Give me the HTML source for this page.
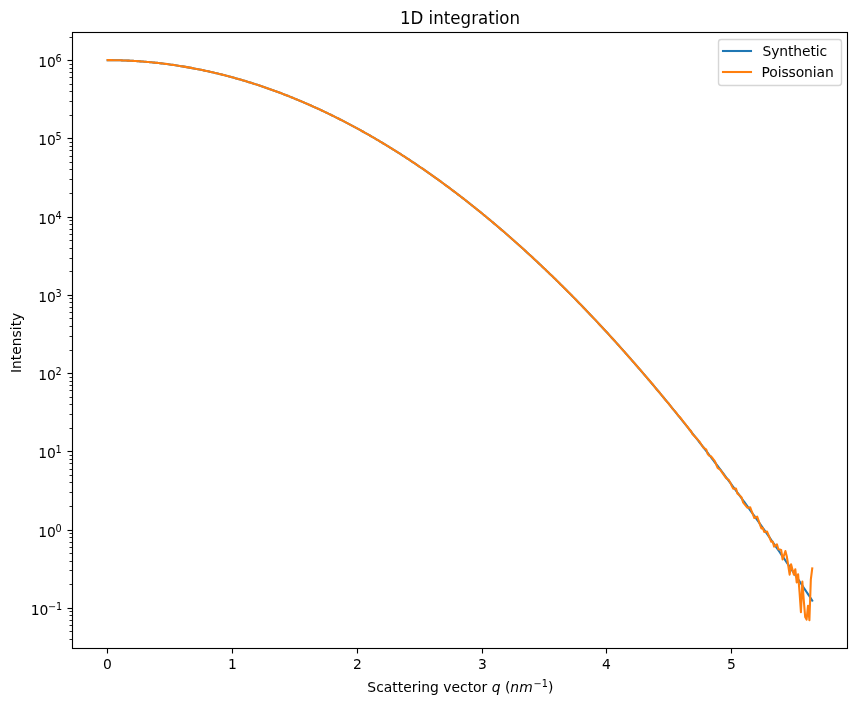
<!DOCTYPE html>
<html lang="en"><head><meta charset="utf-8"><title>1D integration</title>
<style>html,body{margin:0;padding:0;background:#fff}svg{display:block}text{font-family:'DejaVu Sans','Liberation Sans',sans-serif;fill:#000}</style></head><body>
<svg width="857" height="709" viewBox="0 0 857 709">
<rect x="0" y="0" width="857" height="709" fill="#fff"/>
<defs><clipPath id="ax"><rect x="72.461" y="32.122" width="775" height="616"/></clipPath></defs>
<g clip-path="url(#ax)" fill="none" stroke-width="2.083" stroke-linecap="square" stroke-linejoin="round">
<path d="M107.69 60.12 L109.10 60.13 L110.51 60.14 L111.92 60.15 L113.34 60.17 L114.75 60.19 L116.16 60.22 L117.57 60.25 L118.98 60.29 L120.40 60.33 L121.81 60.37 L123.22 60.42 L124.63 60.48 L126.04 60.53 L127.46 60.60 L128.87 60.66 L130.28 60.73 L131.69 60.81 L133.10 60.89 L134.51 60.97 L135.93 61.06 L137.34 61.15 L138.75 61.25 L140.16 61.35 L141.57 61.45 L142.99 61.56 L144.40 61.68 L145.81 61.79 L147.22 61.92 L148.63 62.04 L150.05 62.18 L151.46 62.31 L152.87 62.45 L154.28 62.60 L155.69 62.74 L157.11 62.90 L158.52 63.05 L159.93 63.22 L161.34 63.38 L162.75 63.55 L164.16 63.73 L165.58 63.91 L166.99 64.09 L168.40 64.28 L169.81 64.47 L171.22 64.67 L172.64 64.87 L174.05 65.07 L175.46 65.28 L176.87 65.49 L178.28 65.71 L179.70 65.93 L181.11 66.16 L182.52 66.39 L183.93 66.63 L185.34 66.87 L186.76 67.11 L188.17 67.36 L189.58 67.61 L190.99 67.87 L192.40 68.13 L193.82 68.40 L195.23 68.67 L196.64 68.94 L198.05 69.22 L199.46 69.50 L200.87 69.79 L202.29 70.08 L203.70 70.38 L205.11 70.68 L206.52 70.98 L207.93 71.29 L209.35 71.61 L210.76 71.92 L212.17 72.25 L213.58 72.57 L214.99 72.90 L216.41 73.24 L217.82 73.58 L219.23 73.92 L220.64 74.27 L222.05 74.62 L223.47 74.98 L224.88 75.34 L226.29 75.71 L227.70 76.08 L229.11 76.45 L230.52 76.83 L231.94 77.21 L233.35 77.60 L234.76 77.99 L236.17 78.39 L237.58 78.79 L239.00 79.19 L240.41 79.60 L241.82 80.01 L243.23 80.43 L244.64 80.85 L246.06 81.28 L247.47 81.71 L248.88 82.14 L250.29 82.58 L251.70 83.03 L253.12 83.47 L254.53 83.93 L255.94 84.38 L257.35 84.84 L258.76 85.31 L260.18 85.78 L261.59 86.25 L263.00 86.73 L264.41 87.21 L265.82 87.70 L267.23 88.19 L268.65 88.69 L270.06 89.19 L271.47 89.69 L272.88 90.20 L274.29 90.71 L275.71 91.23 L277.12 91.75 L278.53 92.28 L279.94 92.81 L281.35 93.34 L282.77 93.88 L284.18 94.43 L285.59 94.97 L287.00 95.53 L288.41 96.08 L289.83 96.64 L291.24 97.21 L292.65 97.78 L294.06 98.35 L295.47 98.93 L296.88 99.51 L298.30 100.10 L299.71 100.69 L301.12 101.28 L302.53 101.88 L303.94 102.49 L305.36 103.10 L306.77 103.71 L308.18 104.33 L309.59 104.95 L311.00 105.57 L312.42 106.20 L313.83 106.84 L315.24 107.48 L316.65 108.12 L318.06 108.77 L319.48 109.42 L320.89 110.07 L322.30 110.74 L323.71 111.40 L325.12 112.07 L326.54 112.74 L327.95 113.42 L329.36 114.10 L330.77 114.79 L332.18 115.48 L333.59 116.17 L335.01 116.87 L336.42 117.58 L337.83 118.29 L339.24 119.00 L340.65 119.72 L342.07 120.44 L343.48 121.16 L344.89 121.89 L346.30 122.63 L347.71 123.36 L349.13 124.11 L350.54 124.85 L351.95 125.61 L353.36 126.36 L354.77 127.12 L356.19 127.89 L357.60 128.66 L359.01 129.43 L360.42 130.21 L361.83 130.99 L363.24 131.77 L364.66 132.56 L366.07 133.36 L367.48 134.16 L368.89 134.96 L370.30 135.77 L371.72 136.58 L373.13 137.40 L374.54 138.22 L375.95 139.05 L377.36 139.88 L378.78 140.71 L380.19 141.55 L381.60 142.39 L383.01 143.24 L384.42 144.09 L385.84 144.94 L387.25 145.80 L388.66 146.67 L390.07 147.54 L391.48 148.41 L392.90 149.29 L394.31 150.17 L395.72 151.05 L397.13 151.94 L398.54 152.84 L399.95 153.74 L401.37 154.64 L402.78 155.55 L404.19 156.46 L405.60 157.38 L407.01 158.30 L408.43 159.22 L409.84 160.15 L411.25 161.09 L412.66 162.02 L414.07 162.97 L415.49 163.91 L416.90 164.86 L418.31 165.82 L419.72 166.78 L421.13 167.74 L422.55 168.71 L423.96 169.68 L425.37 170.66 L426.78 171.64 L428.19 172.63 L429.60 173.62 L431.02 174.61 L432.43 175.61 L433.84 176.62 L435.25 177.62 L436.66 178.63 L438.08 179.65 L439.49 180.67 L440.90 181.70 L442.31 182.72 L443.72 183.76 L445.14 184.80 L446.55 185.84 L447.96 186.88 L449.37 187.94 L450.78 188.99 L452.20 190.05 L453.61 191.11 L455.02 192.18 L456.43 193.25 L457.84 194.33 L459.26 195.41 L460.67 196.50 L462.08 197.59 L463.49 198.68 L464.90 199.78 L466.31 200.88 L467.73 201.99 L469.14 203.10 L470.55 204.22 L471.96 205.34 L473.37 206.46 L474.79 207.59 L476.20 208.72 L477.61 209.86 L479.02 211.00 L480.43 212.15 L481.85 213.30 L483.26 214.46 L484.67 215.61 L486.08 216.78 L487.49 217.95 L488.91 219.12 L490.32 220.29 L491.73 221.48 L493.14 222.66 L494.55 223.85 L495.96 225.04 L497.38 226.24 L498.79 227.45 L500.20 228.65 L501.61 229.86 L503.02 231.08 L504.44 232.30 L505.85 233.52 L507.26 234.75 L508.67 235.99 L510.08 237.22 L511.50 238.46 L512.91 239.71 L514.32 240.96 L515.73 242.21 L517.14 243.47 L518.56 244.74 L519.97 246.00 L521.38 247.28 L522.79 248.55 L524.20 249.83 L525.62 251.12 L527.03 252.41 L528.44 253.70 L529.85 255.00 L531.26 256.30 L532.67 257.61 L534.09 258.92 L535.50 260.24 L536.91 261.55 L538.32 262.88 L539.73 264.21 L541.15 265.54 L542.56 266.88 L543.97 268.22 L545.38 269.56 L546.79 270.91 L548.21 272.27 L549.62 273.63 L551.03 274.99 L552.44 276.36 L553.85 277.73 L555.27 279.11 L556.68 280.49 L558.09 281.87 L559.50 283.26 L560.91 284.65 L562.32 286.05 L563.74 287.45 L565.15 288.86 L566.56 290.27 L567.97 291.69 L569.38 293.11 L570.80 294.53 L572.21 295.96 L573.62 297.39 L575.03 298.83 L576.44 300.27 L577.86 301.71 L579.27 303.16 L580.68 304.62 L582.09 306.08 L583.50 307.54 L584.92 309.01 L586.33 310.48 L587.74 311.95 L589.15 313.43 L590.56 314.92 L591.98 316.41 L593.39 317.90 L594.80 319.40 L596.21 320.90 L597.62 322.41 L599.03 323.92 L600.45 325.43 L601.86 326.95 L603.27 328.47 L604.68 330.00 L606.09 331.53 L607.51 333.07 L608.92 334.61 L610.33 336.16 L611.74 337.71 L613.15 339.26 L614.57 340.82 L615.98 342.38 L617.39 343.95 L618.80 345.52 L620.21 347.09 L621.63 348.67 L623.04 350.26 L624.45 351.85 L625.86 353.44 L627.27 355.04 L628.68 356.64 L630.10 358.24 L631.51 359.85 L632.92 361.46 L634.33 363.08 L635.74 364.70 L637.16 366.33 L638.57 367.96 L639.98 369.60 L641.39 371.23 L642.80 372.88 L644.22 374.52 L645.63 376.18 L647.04 377.83 L648.45 379.49 L649.86 381.15 L651.28 382.82 L652.69 384.50 L654.10 386.17 L655.51 387.85 L656.92 389.54 L658.34 391.23 L659.75 392.92 L661.16 394.62 L662.57 396.32 L663.98 398.03 L665.39 399.74 L666.81 401.45 L668.22 403.17 L669.63 404.89 L671.04 406.62 L672.45 408.35 L673.87 410.09 L675.28 411.83 L676.69 413.57 L678.10 415.32 L679.51 417.07 L680.93 418.83 L682.34 420.59 L683.75 422.35 L685.16 424.12 L686.57 425.90 L687.99 427.67 L689.40 429.46 L690.81 431.24 L692.22 433.03 L693.63 434.83 L695.04 436.62 L696.46 438.43 L697.87 440.23 L699.28 442.05 L700.69 443.86 L702.10 445.68 L703.52 447.50 L704.93 449.33 L706.34 451.17 L707.75 453.00 L709.16 454.84 L710.58 456.69 L711.99 458.54 L713.40 460.39 L714.81 462.25 L716.22 464.11 L717.64 465.98 L719.05 467.85 L720.46 469.72 L721.87 471.60 L723.28 473.48 L724.70 475.37 L726.11 477.26 L727.52 479.16 L728.93 481.05 L730.34 482.96 L731.75 484.87 L733.17 486.78 L734.58 488.70 L735.99 490.62 L737.40 492.54 L738.81 494.47 L740.23 496.40 L741.64 498.34 L743.05 500.28 L744.46 502.23 L745.87 504.18 L747.29 506.13 L748.70 508.09 L750.11 510.05 L751.52 512.02 L752.93 513.99 L754.35 515.97 L755.76 517.95 L757.17 519.93 L758.58 521.92 L759.99 523.91 L761.40 525.91 L762.82 527.91 L764.23 529.91 L765.64 531.92 L767.05 533.94 L768.46 535.95 L769.88 537.97 L771.29 540.00 L772.70 542.03 L774.11 544.07 L775.52 546.10 L776.94 548.15 L778.35 550.19 L779.76 552.24 L781.17 554.30 L782.58 556.36 L784.00 558.42 L785.41 560.49 L786.82 562.56 L788.23 564.64 L789.64 566.72 L791.06 568.80 L792.47 570.89 L793.88 572.99 L795.29 575.08 L796.70 577.19 L798.11 579.29 L799.53 581.40 L800.94 583.52 L802.35 585.63 L803.76 587.76 L805.17 589.88 L806.59 592.02 L808.00 594.15 L809.41 596.29 L810.82 598.43 L812.23 600.58" stroke="#1f77b4"/>
<path d="M107.69 60.12 L109.10 60.13 L110.51 60.14 L111.92 60.15 L113.34 60.17 L114.75 60.19 L116.16 60.22 L117.57 60.25 L118.98 60.29 L120.40 60.33 L121.81 60.37 L123.22 60.42 L124.63 60.48 L126.04 60.53 L127.46 60.60 L128.87 60.66 L130.28 60.73 L131.69 60.81 L133.10 60.88 L134.51 60.97 L135.93 61.06 L137.34 61.15 L138.75 61.25 L140.16 61.35 L141.57 61.45 L142.99 61.56 L144.40 61.67 L145.81 61.79 L147.22 61.92 L148.63 62.04 L150.05 62.18 L151.46 62.31 L152.87 62.45 L154.28 62.59 L155.69 62.74 L157.11 62.90 L158.52 63.06 L159.93 63.21 L161.34 63.38 L162.75 63.55 L164.16 63.73 L165.58 63.90 L166.99 64.09 L168.40 64.28 L169.81 64.47 L171.22 64.67 L172.64 64.86 L174.05 65.07 L175.46 65.28 L176.87 65.49 L178.28 65.71 L179.70 65.94 L181.11 66.16 L182.52 66.39 L183.93 66.63 L185.34 66.87 L186.76 67.11 L188.17 67.36 L189.58 67.61 L190.99 67.87 L192.40 68.13 L193.82 68.40 L195.23 68.67 L196.64 68.94 L198.05 69.22 L199.46 69.50 L200.87 69.79 L202.29 70.08 L203.70 70.38 L205.11 70.68 L206.52 70.98 L207.93 71.29 L209.35 71.60 L210.76 71.93 L212.17 72.25 L213.58 72.57 L214.99 72.90 L216.41 73.24 L217.82 73.58 L219.23 73.92 L220.64 74.27 L222.05 74.62 L223.47 74.98 L224.88 75.34 L226.29 75.71 L227.70 76.08 L229.11 76.45 L230.52 76.83 L231.94 77.21 L233.35 77.60 L234.76 77.99 L236.17 78.39 L237.58 78.79 L239.00 79.19 L240.41 79.60 L241.82 80.02 L243.23 80.43 L244.64 80.85 L246.06 81.28 L247.47 81.71 L248.88 82.14 L250.29 82.58 L251.70 83.03 L253.12 83.47 L254.53 83.93 L255.94 84.38 L257.35 84.84 L258.76 85.31 L260.18 85.78 L261.59 86.25 L263.00 86.73 L264.41 87.21 L265.82 87.70 L267.23 88.19 L268.65 88.69 L270.06 89.19 L271.47 89.70 L272.88 90.20 L274.29 90.71 L275.71 91.23 L277.12 91.75 L278.53 92.28 L279.94 92.81 L281.35 93.34 L282.77 93.88 L284.18 94.43 L285.59 94.97 L287.00 95.53 L288.41 96.08 L289.83 96.64 L291.24 97.20 L292.65 97.78 L294.06 98.35 L295.47 98.93 L296.88 99.51 L298.30 100.10 L299.71 100.69 L301.12 101.28 L302.53 101.88 L303.94 102.49 L305.36 103.10 L306.77 103.71 L308.18 104.32 L309.59 104.95 L311.00 105.57 L312.42 106.21 L313.83 106.84 L315.24 107.47 L316.65 108.12 L318.06 108.77 L319.48 109.42 L320.89 110.07 L322.30 110.73 L323.71 111.40 L325.12 112.07 L326.54 112.74 L327.95 113.42 L329.36 114.10 L330.77 114.79 L332.18 115.48 L333.59 116.17 L335.01 116.88 L336.42 117.58 L337.83 118.28 L339.24 119.00 L340.65 119.71 L342.07 120.44 L343.48 121.16 L344.89 121.89 L346.30 122.63 L347.71 123.36 L349.13 124.10 L350.54 124.85 L351.95 125.61 L353.36 126.36 L354.77 127.12 L356.19 127.89 L357.60 128.65 L359.01 129.43 L360.42 130.20 L361.83 130.98 L363.24 131.77 L364.66 132.57 L366.07 133.36 L367.48 134.16 L368.89 134.96 L370.30 135.77 L371.72 136.58 L373.13 137.40 L374.54 138.21 L375.95 139.05 L377.36 139.87 L378.78 140.71 L380.19 141.55 L381.60 142.39 L383.01 143.24 L384.42 144.09 L385.84 144.94 L387.25 145.80 L388.66 146.67 L390.07 147.53 L391.48 148.41 L392.90 149.29 L394.31 150.17 L395.72 151.06 L397.13 151.94 L398.54 152.85 L399.95 153.74 L401.37 154.64 L402.78 155.54 L404.19 156.46 L405.60 157.38 L407.01 158.30 L408.43 159.23 L409.84 160.15 L411.25 161.09 L412.66 162.03 L414.07 162.97 L415.49 163.92 L416.90 164.87 L418.31 165.83 L419.72 166.78 L421.13 167.75 L422.55 168.71 L423.96 169.68 L425.37 170.67 L426.78 171.64 L428.19 172.63 L429.60 173.63 L431.02 174.61 L432.43 175.62 L433.84 176.63 L435.25 177.62 L436.66 178.64 L438.08 179.65 L439.49 180.68 L440.90 181.69 L442.31 182.72 L443.72 183.77 L445.14 184.80 L446.55 185.84 L447.96 186.89 L449.37 187.92 L450.78 188.99 L452.20 190.06 L453.61 191.12 L455.02 192.18 L456.43 193.23 L457.84 194.33 L459.26 195.41 L460.67 196.49 L462.08 197.59 L463.49 198.66 L464.90 199.79 L466.31 200.88 L467.73 201.99 L469.14 203.10 L470.55 204.23 L471.96 205.32 L473.37 206.46 L474.79 207.59 L476.20 208.73 L477.61 209.87 L479.02 211.00 L480.43 212.14 L481.85 213.29 L483.26 214.44 L484.67 215.61 L486.08 216.78 L487.49 217.94 L488.91 219.11 L490.32 220.30 L491.73 221.47 L493.14 222.64 L494.55 223.85 L495.96 225.05 L497.38 226.23 L498.79 227.42 L500.20 228.66 L501.61 229.86 L503.02 231.08 L504.44 232.28 L505.85 233.55 L507.26 234.75 L508.67 235.97 L510.08 237.24 L511.50 238.44 L512.91 239.70 L514.32 240.97 L515.73 242.21 L517.14 243.50 L518.56 244.75 L519.97 245.97 L521.38 247.29 L522.79 248.52 L524.20 249.84 L525.62 251.10 L527.03 252.41 L528.44 253.75 L529.85 255.01 L531.26 256.30 L532.67 257.63 L534.09 258.95 L535.50 260.23 L536.91 261.57 L538.32 262.92 L539.73 264.22 L541.15 265.52 L542.56 266.89 L543.97 268.19 L545.38 269.52 L546.79 270.91 L548.21 272.30 L549.62 273.66 L551.03 274.99 L552.44 276.33 L553.85 277.72 L555.27 279.09 L556.68 280.50 L558.09 281.86 L559.50 283.27 L560.91 284.66 L562.32 286.09 L563.74 287.51 L565.15 288.88 L566.56 290.31 L567.97 291.72 L569.38 293.08 L570.80 294.53 L572.21 295.85 L573.62 297.35 L575.03 298.85 L576.44 300.24 L577.86 301.70 L579.27 303.19 L580.68 304.57 L582.09 306.11 L583.50 307.68 L584.92 308.97 L586.33 310.51 L587.74 311.88 L589.15 313.47 L590.56 314.98 L591.98 316.33 L593.39 317.96 L594.80 319.39 L596.21 320.82 L597.62 322.40 L599.03 323.92 L600.45 325.42 L601.86 326.90 L603.27 328.52 L604.68 329.96 L606.09 331.50 L607.51 332.92 L608.92 334.63 L610.33 336.22 L611.74 337.65 L613.15 339.29 L614.57 340.80 L615.98 342.37 L617.39 343.86 L618.80 345.57 L620.21 347.10 L621.63 348.89 L623.04 350.33 L624.45 351.71 L625.86 353.50 L627.27 355.10 L628.68 356.75 L630.10 358.19 L631.51 359.83 L632.92 361.58 L634.33 363.01 L635.74 364.68 L637.16 366.25 L638.57 368.03 L639.98 369.40 L641.39 371.19 L642.80 372.89 L644.22 374.59 L645.63 376.21 L647.04 377.72 L648.45 379.53 L649.86 381.01 L651.28 382.74 L652.69 384.31 L654.10 386.05 L655.51 387.86 L656.92 389.83 L658.34 391.18 L659.75 392.79 L661.16 394.59 L662.57 396.23 L663.98 398.11 L665.39 399.80 L666.81 401.62 L668.22 402.92 L669.63 404.86 L671.04 406.72 L672.45 408.62 L673.87 410.12 L675.28 411.52 L676.69 413.47 L678.10 415.48 L679.51 416.75 L680.93 418.49 L682.34 420.35 L683.75 422.16 L685.16 423.83 L686.57 425.76 L687.99 427.47 L689.40 429.67 L690.81 430.82 L692.22 433.70 L693.63 435.30 L695.04 436.80 L696.46 438.30 L697.87 439.90 L699.28 441.40 L700.69 443.50 L702.10 445.80 L703.52 447.60 L704.93 448.70 L706.34 449.70 L707.75 454.00 L709.16 455.70 L710.58 456.10 L711.99 457.50 L713.40 459.30 L714.81 461.10 L716.22 464.50 L717.64 467.90 L719.05 468.90 L720.46 470.00 L721.87 472.10 L723.28 474.10 L724.70 476.20 L726.11 478.20 L727.52 479.20 L728.93 480.10 L730.34 482.90 L731.75 485.80 L733.17 488.60 L734.58 488.60 L735.99 488.60 L737.40 493.40 L738.81 494.80 L740.23 496.10 L741.64 497.50 L743.05 502.30 L744.46 504.10 L745.87 505.90 L747.29 507.70 L748.70 507.70 L750.11 507.20 L751.52 510.80 L752.93 514.40 L754.35 518.00 L755.76 517.30 L757.17 516.70 L758.58 520.60 L759.99 524.60 L761.40 528.50 L762.82 527.80 L764.23 532.00 L765.64 531.80 L767.05 531.60 L768.46 535.00 L769.88 538.40 L771.29 541.80 L772.70 541.50 L774.11 546.60 L775.52 545.40 L776.94 544.40 L778.35 549.20 L779.76 549.60 L781.17 550.00 L782.58 559.40 L784.00 555.30 L785.41 551.10 L786.82 556.50 L788.23 565.50 L789.64 574.60 L791.06 564.40 L792.47 569.50 L793.88 574.60 L795.29 569.20 L796.70 582.50 L798.11 574.30 L799.53 592.00 L800.94 612.30 L802.35 581.60 L803.76 600.00 L805.17 617.00 L806.59 619.60 L808.00 605.90 L809.41 620.10 L810.82 579.70 L812.23 568.30" stroke="#ff7f0e"/>
</g>
<g fill="#000">
<rect x="106.944" y="648.5" width="1.111" height="5.00"/>
<rect x="231.944" y="648.5" width="1.111" height="5.00"/>
<rect x="356.944" y="648.5" width="1.111" height="5.00"/>
<rect x="481.944" y="648.5" width="1.111" height="5.00"/>
<rect x="605.944" y="648.5" width="1.111" height="5.00"/>
<rect x="730.944" y="648.5" width="1.111" height="5.00"/>
<rect x="67.50" y="607.944" width="5.00" height="1.111"/>
<rect x="67.50" y="529.944" width="5.00" height="1.111"/>
<rect x="67.50" y="450.944" width="5.00" height="1.111"/>
<rect x="67.50" y="372.944" width="5.00" height="1.111"/>
<rect x="67.50" y="294.944" width="5.00" height="1.111"/>
<rect x="67.50" y="216.944" width="5.00" height="1.111"/>
<rect x="67.50" y="137.944" width="5.00" height="1.111"/>
<rect x="67.50" y="59.944" width="5.00" height="1.111"/>
<rect x="69.50" y="639.083" width="3.00" height="0.833"/>
<rect x="69.50" y="631.083" width="3.00" height="0.833"/>
<rect x="69.50" y="625.083" width="3.00" height="0.833"/>
<rect x="69.50" y="620.083" width="3.00" height="0.833"/>
<rect x="69.50" y="615.083" width="3.00" height="0.833"/>
<rect x="69.50" y="611.083" width="3.00" height="0.833"/>
<rect x="69.50" y="584.083" width="3.00" height="0.833"/>
<rect x="69.50" y="570.083" width="3.00" height="0.833"/>
<rect x="69.50" y="561.083" width="3.00" height="0.833"/>
<rect x="69.50" y="553.083" width="3.00" height="0.833"/>
<rect x="69.50" y="547.083" width="3.00" height="0.833"/>
<rect x="69.50" y="542.083" width="3.00" height="0.833"/>
<rect x="69.50" y="537.083" width="3.00" height="0.833"/>
<rect x="69.50" y="533.083" width="3.00" height="0.833"/>
<rect x="69.50" y="506.083" width="3.00" height="0.833"/>
<rect x="69.50" y="492.083" width="3.00" height="0.833"/>
<rect x="69.50" y="482.083" width="3.00" height="0.833"/>
<rect x="69.50" y="475.083" width="3.00" height="0.833"/>
<rect x="69.50" y="469.083" width="3.00" height="0.833"/>
<rect x="69.50" y="463.083" width="3.00" height="0.833"/>
<rect x="69.50" y="459.083" width="3.00" height="0.833"/>
<rect x="69.50" y="455.083" width="3.00" height="0.833"/>
<rect x="69.50" y="428.083" width="3.00" height="0.833"/>
<rect x="69.50" y="414.083" width="3.00" height="0.833"/>
<rect x="69.50" y="404.083" width="3.00" height="0.833"/>
<rect x="69.50" y="397.083" width="3.00" height="0.833"/>
<rect x="69.50" y="390.083" width="3.00" height="0.833"/>
<rect x="69.50" y="385.083" width="3.00" height="0.833"/>
<rect x="69.50" y="381.083" width="3.00" height="0.833"/>
<rect x="69.50" y="377.083" width="3.00" height="0.833"/>
<rect x="69.50" y="350.083" width="3.00" height="0.833"/>
<rect x="69.50" y="336.083" width="3.00" height="0.833"/>
<rect x="69.50" y="326.083" width="3.00" height="0.833"/>
<rect x="69.50" y="318.083" width="3.00" height="0.833"/>
<rect x="69.50" y="312.083" width="3.00" height="0.833"/>
<rect x="69.50" y="307.083" width="3.00" height="0.833"/>
<rect x="69.50" y="302.083" width="3.00" height="0.833"/>
<rect x="69.50" y="298.083" width="3.00" height="0.833"/>
<rect x="69.50" y="271.083" width="3.00" height="0.833"/>
<rect x="69.50" y="258.083" width="3.00" height="0.833"/>
<rect x="69.50" y="248.083" width="3.00" height="0.833"/>
<rect x="69.50" y="240.083" width="3.00" height="0.833"/>
<rect x="69.50" y="234.083" width="3.00" height="0.833"/>
<rect x="69.50" y="229.083" width="3.00" height="0.833"/>
<rect x="69.50" y="224.083" width="3.00" height="0.833"/>
<rect x="69.50" y="220.083" width="3.00" height="0.833"/>
<rect x="69.50" y="193.083" width="3.00" height="0.833"/>
<rect x="69.50" y="179.083" width="3.00" height="0.833"/>
<rect x="69.50" y="169.083" width="3.00" height="0.833"/>
<rect x="69.50" y="162.083" width="3.00" height="0.833"/>
<rect x="69.50" y="156.083" width="3.00" height="0.833"/>
<rect x="69.50" y="150.083" width="3.00" height="0.833"/>
<rect x="69.50" y="146.083" width="3.00" height="0.833"/>
<rect x="69.50" y="142.083" width="3.00" height="0.833"/>
<rect x="69.50" y="115.083" width="3.00" height="0.833"/>
<rect x="69.50" y="101.083" width="3.00" height="0.833"/>
<rect x="69.50" y="91.083" width="3.00" height="0.833"/>
<rect x="69.50" y="84.083" width="3.00" height="0.833"/>
<rect x="69.50" y="77.083" width="3.00" height="0.833"/>
<rect x="69.50" y="72.083" width="3.00" height="0.833"/>
<rect x="69.50" y="68.083" width="3.00" height="0.833"/>
<rect x="69.50" y="64.083" width="3.00" height="0.833"/>
<rect x="69.50" y="37.083" width="3.00" height="0.833"/>
</g>
<rect x="72.5" y="32.5" width="775" height="616" fill="none" stroke="#000" stroke-width="1.111"/>
<g font-size="13.889" text-anchor="middle">
<text x="107.38" y="668.53">0</text>
<text x="232.38" y="668.53">1</text>
<text x="357.38" y="668.53">2</text>
<text x="482.38" y="668.53">3</text>
<text x="606.38" y="668.53">4</text>
<text x="731.38" y="668.53">5</text>
</g>
<g font-size="13.889">
<text x="30.77" y="614.53">10<tspan font-size="9.722" x="47.98" dy="-4.05">−1</tspan></text>
<text x="38.20" y="536.53">10<tspan font-size="9.722" x="55.42" dy="-4.05">0</tspan></text>
<text x="38.20" y="457.53">10<tspan font-size="9.722" x="55.42" dy="-4.05">1</tspan></text>
<text x="38.20" y="379.53">10<tspan font-size="9.722" x="55.42" dy="-4.05">2</tspan></text>
<text x="38.20" y="301.53">10<tspan font-size="9.722" x="55.42" dy="-4.05">3</tspan></text>
<text x="38.20" y="223.53">10<tspan font-size="9.722" x="55.42" dy="-4.05">4</tspan></text>
<text x="38.20" y="144.53">10<tspan font-size="9.722" x="55.42" dy="-4.05">5</tspan></text>
<text x="38.20" y="66.53">10<tspan font-size="9.722" x="55.42" dy="-4.05">6</tspan></text>
</g>
<text font-size="13.889" x="367.37" y="691.60">Scattering vector <tspan font-style="oblique">q</tspan> (<tspan font-style="oblique">nm</tspan><tspan font-size="9.722" dy="-4.12" dx="0.88">−1</tspan><tspan dy="4.12" dx="0.05">)</tspan></text>
<text font-size="13.889" text-anchor="middle" transform="translate(20.57 342.88) rotate(-90)">Intensity</text>
<text font-size="16.667" text-anchor="middle" transform="translate(460.00 23.60) scale(1 1.090)">1D integration</text>
<rect x="718.50" y="39.50" width="123.00" height="46.00" rx="2.78" fill="#fff" stroke="#ccc" stroke-width="1.389" opacity="0.8"/>
<g stroke-width="2.083" stroke-linecap="square" fill="none">
<path d="M723.00 51.00H751.00" stroke="#1f77b4"/>
<path d="M723.00 72.00H751.00" stroke="#ff7f0e"/>
</g>
<g font-size="13.889">
<text x="762.60" y="55.55" textLength="64.55">Synthetic</text>
<text x="761.60" y="76.56" textLength="72.15">Poissonian</text>
</g>
</svg></body></html>
